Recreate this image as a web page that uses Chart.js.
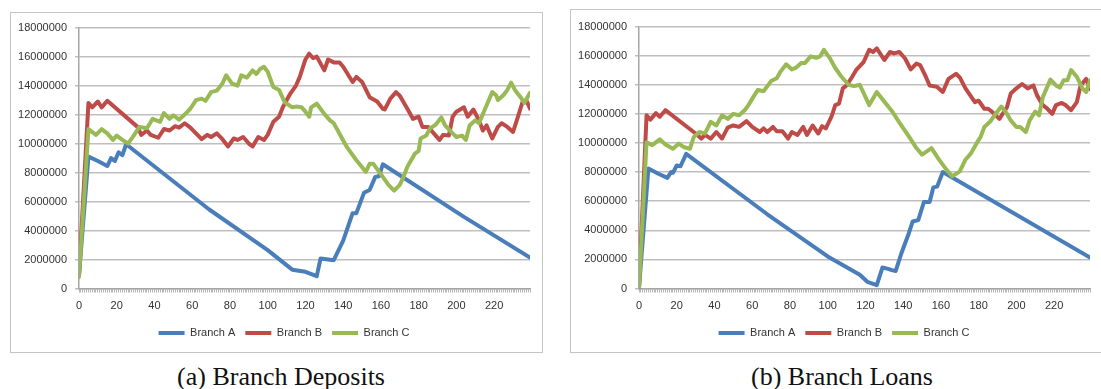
<!DOCTYPE html>
<html>
<head>
<meta charset="utf-8">
<script src="https://cdn.jsdelivr.net/npm/chart.js@4.4.1/dist/chart.umd.min.js"></script>
<style>
  html, body { margin: 0; padding: 0; background: #fff; }
  body { width: 1101px; height: 389px; position: relative; overflow: hidden; }
  .box { position: absolute; border: 1px solid #c4c4c4; box-sizing: border-box; }
  .box canvas { position: absolute; left: 0; top: 0; }
  .caption {
    position: absolute; font-family: "Liberation Serif", "Times New Roman", serif;
    font-size: 26px; line-height: 26px; color: #111; white-space: nowrap;
    transform: translateX(-50%);
  }
</style>
</head>
<body>
<div class="box" style="left:10px; top:12px; width:533px; height:341px;">
  <canvas id="deposits" width="531" height="339"></canvas>
</div>
<div class="box" style="left:570px; top:9px; width:533px; height:344px;">
  <canvas id="loans" width="531" height="342"></canvas>
</div>
<div class="caption" style="left:281px; top:364px;">(a) Branch Deposits</div>
<div class="caption" style="left:842px; top:364px;">(b) Branch Loans</div>

<script>
// [day, value in millions]
const depositsA = [[0,0.9],[5,9.1],[10,8.8],[15,8.45],[17,9.0],[19,8.8],[21,9.4],[23,9.2],[25,9.95],
  [69,5.45],[100,2.65],[113,1.3],[120,1.15],[126,0.85],[128,2.07],[135,1.95],[140,3.3],[145,5.2],
  [147,5.2],[151,6.6],[154,6.8],[157,7.7],[159,7.75],[161,8.57],[204,4.94],[239,2.14]];
const depositsB = [[0,0.9],[5,12.8],[7,12.5],[10,12.9],[12,12.5],[15,12.95],[31,11.15],[33,10.6],
  [36,10.9],[38,10.6],[42,10.4],[45,11.0],[48,10.9],[51,11.2],[53,11.1],[56,11.4],[59,11.1],[62,10.7],
  [65,10.3],[68,10.6],[70,10.45],[73,10.7],[76,10.3],[79,9.8],[82,10.35],[84,10.25],[87,10.45],[90,10.0],
  [92,9.8],[95,10.45],[98,10.25],[100,10.6],[103,11.5],[106,11.85],[108,12.5],[112,13.45],[115,14.0],
  [117,14.6],[120,15.8],[122,16.2],[124,15.9],[126,16.0],[130,15.05],[132,15.8],[135,15.6],[138,15.6],
  [140,15.3],[145,14.25],[147,14.6],[150,14.25],[154,13.2],[158,12.9],[161,12.4],[162,12.35],[165,13.1],
  [168,13.55],[170,13.3],[174,12.4],[177,11.7],[180,11.85],[182,11.15],[185,11.15],[188,10.7],[191,10.25],
  [193,10.6],[196,10.55],[198,11.85],[200,12.2],[204,12.5],[206,11.85],[209,12.35],[212,11.6],[214,10.9],
  [216,11.25],[219,10.35],[222,11.15],[224,11.4],[227,11.15],[230,10.8],[232,11.6],[235,12.85],[237,13.0],
  [239,12.4]];
const depositsC = [[0,0.8],[5,11.0],[9,10.6],[12,11.0],[15,10.7],[18,10.25],[20,10.55],[23,10.25],
  [26,10.0],[29,10.55],[32,11.15],[36,11.05],[39,11.7],[43,11.5],[45,12.1],[48,11.7],[50,11.95],[53,11.65],
  [56,12.0],[59,12.4],[62,13.0],[65,13.1],[67,12.95],[70,13.55],[73,13.65],[76,14.15],[78,14.7],[81,14.15],
  [84,14.0],[86,14.7],[89,14.55],[92,15.05],[94,14.8],[96,15.15],[98,15.3],[100,14.95],[103,13.9],
  [106,13.7],[109,12.85],[113,12.5],[115,12.55],[118,12.5],[120,12.2],[122,11.85],[123,12.5],[126,12.75],
  [130,12.05],[133,11.6],[135,11.4],[142,9.75],[147,8.85],[152,8.05],[154,8.6],[156,8.6],[161,7.7],
  [164,7.15],[167,6.75],[170,7.15],[172,7.7],[174,8.4],[178,9.3],[180,9.5],[181,10.35],[184,10.55],
  [186,11.05],[189,11.3],[192,11.8],[194,11.25],[198,10.7],[200,10.45],[203,10.55],[205,10.25],[207,11.25],
  [210,11.6],[212,11.4],[216,12.65],[219,13.55],[221,13.35],[222,13.0],[225,13.35],[227,13.7],[229,14.2],
  [231,13.7],[234,13.2],[236,12.8],[239,13.5]];

const loansA = [[0,0.05],[5,8.25],[10,7.9],[15,7.6],[17,8.0],[18,7.95],[20,8.45],[22,8.4],[25,9.25],
  [68,5.1],[100,2.2],[117,0.95],[121,0.46],[126,0.23],[129,1.44],[132,1.35],[134,1.26],[136,1.2],
  [139,2.4],[143,3.8],[145,4.6],[148,4.7],[151,5.95],[154,5.95],[156,6.95],[158,7.0],[161,8.0],[239,2.13]];
const loansB = [[0,0.05],[4,11.9],[6,11.6],[9,12.05],[11,11.8],[14,12.25],[30,10.65],[33,10.3],
  [35,10.55],[38,10.3],[41,10.75],[44,10.3],[47,11.05],[50,11.2],[53,11.1],[57,11.5],[60,11.1],[64,10.75],
  [66,11.0],[68,10.75],[71,11.1],[73,10.8],[76,10.8],[79,10.3],[81,10.75],[84,10.55],[87,11.1],[89,10.55],
  [92,11.2],[95,10.65],[97,11.15],[99,11.0],[102,11.8],[104,12.6],[106,12.7],[108,13.75],[110,13.95],
  [113,14.55],[115,15.0],[119,15.55],[122,16.4],[124,16.25],[126,16.5],[130,15.7],[133,16.25],[135,16.15],
  [138,16.25],[141,15.8],[144,15.05],[147,15.45],[149,15.35],[152,14.55],[154,13.95],[158,13.85],
  [161,13.5],[164,14.4],[168,14.75],[170,14.5],[173,13.75],[178,12.8],[180,12.9],[183,12.35],[185,12.35],
  [187,12.15],[191,11.65],[195,12.45],[197,13.4],[200,13.75],[203,14.05],[206,13.75],[209,13.95],
  [211,13.25],[214,12.6],[216,12.4],[219,12.0],[221,12.6],[224,12.75],[226,12.6],[229,12.25],[232,12.8],
  [234,13.95],[237,14.4],[239,13.7]];
const loansC = [[0,0.05],[4,10.05],[7,9.85],[11,10.25],[14,9.9],[18,9.6],[21,9.95],[24,9.7],[27,9.6],
  [29,10.4],[32,10.75],[35,10.65],[38,11.45],[41,11.2],[44,11.9],[47,11.65],[50,12.0],[53,11.9],[56,12.25],
  [58,12.6],[61,13.25],[63,13.65],[66,13.55],[70,14.25],[73,14.45],[75,14.9],[78,15.4],[81,15.05],
  [83,15.15],[86,15.5],[88,15.5],[91,15.95],[94,15.85],[96,15.95],[98,16.4],[101,15.85],[104,15.15],
  [107,14.6],[111,14.0],[114,13.9],[117,14.0],[122,12.6],[126,13.5],[129,13.0],[134,12.2],[138,11.4],
  [143,10.45],[147,9.65],[150,9.2],[155,9.65],[159,8.85],[163,8.15],[166,7.7],[170,8.05],[173,8.85],
  [176,9.3],[179,10.0],[181,10.4],[183,11.1],[186,11.45],[189,12.0],[192,12.5],[195,12.0],[197,11.55],
  [200,11.1],[202,11.1],[205,10.75],[207,11.55],[210,12.15],[212,11.9],[214,13.15],[218,14.35],[221,13.95],
  [223,13.8],[225,14.3],[227,14.3],[229,15.0],[232,14.55],[235,13.75],[237,13.5],[239,14.3]];

const seriesNames = ["Branch A", "Branch B", "Branch C"];
const seriesColors = ["#4A7EBB", "#BE4B48", "#98B954"];
const lastDay = 239;
const xLabelStep = 20;
const yMax = 18000000;
const yStep = 2000000;

const font = { family: "'Liberation Sans', Arial, sans-serif", size: 11 };

// nudges the centred legend row to the right, as in the original sheet
const legendShift = {
    id: "legendShift",
    afterLayout: function (chart) {
        chart.legend.left += 13.5;
        chart.legend.right += 13.5;
    }
};

function buildChart(canvasId, series, plotTop) {
    let datasets = series.map(function (s, i) {
        return {
            label: seriesNames[i],
            data: s.map(function (p) { return { x: p[0], y: p[1] * 1000000 }; }),
            borderColor: seriesColors[i],
            backgroundColor: seriesColors[i],
            borderWidth: 4,
            pointRadius: 0,
            tension: 0,
            borderJoinStyle: "round",
            borderCapStyle: "round",
            order: 3 - i
        };
    });

    return new Chart(document.getElementById(canvasId).getContext("2d"), {
        type: "line",
        data: { datasets: datasets },
        plugins: [legendShift],
        options: {
            responsive: false,
            animation: false,
            layout: { padding: { top: plotTop, right: 12, bottom: 3.5, left: 0 } },
            plugins: {
                tooltip: { enabled: false },
                legend: {
                    position: "bottom",
                    reverse: true,
                    labels: {
                        usePointStyle: true,
                        pointStyle: "line",
                        pointStyleWidth: 26,
                        boxHeight: 11,
                        padding: 10,
                        color: "#333",
                        font: font
                    }
                }
            },
            scales: {
                x: {
                    type: "linear",
                    min: 0,
                    max: lastDay,
                    grid: { drawOnChartArea: false, drawTicks: true, tickLength: 4, color: "#b4b4b4" },
                    border: { color: "#a6a6a6", width: 1.5 },
                    ticks: {
                        stepSize: 1,
                        autoSkip: false,
                        maxRotation: 0,
                        padding: 7,
                        color: "#333",
                        font: font,
                        callback: function (v) { return v % xLabelStep === 0 ? String(v) : ""; }
                    },
                    afterFit: function (scale) { scale.height = 29; }
                },
                y: {
                    min: 0,
                    max: yMax,
                    grid: { color: "#bfbfbf", lineWidth: 1.5, tickLength: 4 },
                    border: { color: "#a6a6a6", width: 1.5 },
                    ticks: {
                        stepSize: yStep,
                        padding: 8,
                        color: "#333",
                        font: font,
                        callback: function (v) { return String(v); }
                    },
                    afterFit: function (scale) { scale.width = 68; }
                }
            }
        }
    });
}

buildChart("deposits", [depositsA, depositsB, depositsC], 14.5);
buildChart("loans", [loansA, loansB, loansC], 16.5);
</script>
</body>
</html>
